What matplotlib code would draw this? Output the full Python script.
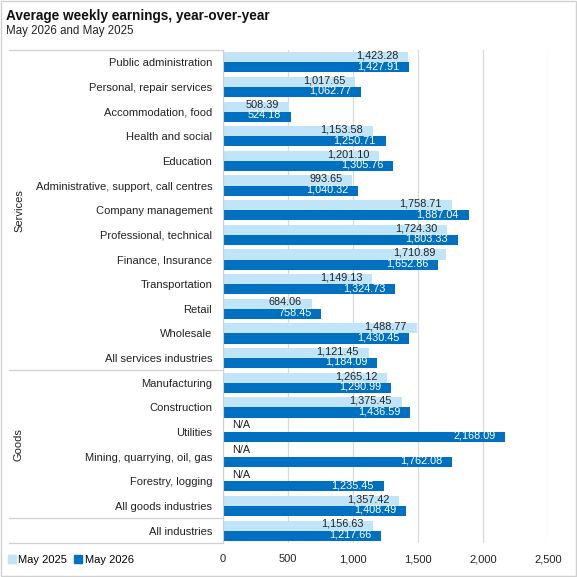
import numpy as np
import matplotlib
matplotlib.use("Agg")
import matplotlib.pyplot as plt
from matplotlib.patches import Patch

plt.rcParams['font.family'] = ['Liberation Sans', 'DejaVu Sans']

# data, top to bottom as in the chart
industries = [
    "Public administration", "Personal, repair services", "Accommodation, food",
    "Health and social", "Education", "Administrative, support, call centres",
    "Company management", "Professional, technical", "Finance, Insurance",
    "Transportation", "Retail", "Wholesale", "All services industries",
    "Manufacturing", "Construction", "Utilities", "Mining, quarrying, oil, gas",
    "Forestry, logging", "All goods industries", "All industries",
]
may_2025 = [1423.28, 1017.65, 508.39, 1153.58, 1201.10, 993.65, 1758.71, 1724.30,
            1710.89, 1149.13, 684.06, 1488.77, 1121.45, 1265.12, 1375.45,
            np.nan, np.nan, np.nan, 1357.42, 1156.63]
may_2026 = [1427.91, 1062.77, 524.18, 1250.71, 1305.76, 1040.32, 1887.04, 1803.33,
            1652.86, 1324.73, 758.45, 1430.45, 1184.09, 1290.99, 1436.59,
            2168.09, 1762.08, 1235.45, 1408.49, 1217.66]
groups = [("Services", 0, 12), ("Goods", 13, 18)]
xticks = [0, 500, 1000, 1500, 2000, 2500]

LIGHT = "#C0E4F8"
DARK = "#0070C0"

fig = plt.figure(figsize=(5.77, 5.77), dpi=100)
ax = fig.add_axes([0.3858, 0.0589, 0.5646, 0.8544])

y = np.arange(len(industries))
h = 0.41
v25 = np.nan_to_num(np.array(may_2025))
v26 = np.array(may_2026)
ax.barh(y - h / 2, v25, height=h, color=LIGHT, zorder=2)
ax.barh(y + h / 2, v26, height=h, color=DARK, zorder=2)

for yi, a, b in zip(y, may_2025, may_2026):
    if np.isnan(a):
        ax.annotate("N/A", (0, yi - h / 2 - 0.07), xytext=(7, 0), textcoords="offset points",
                    ha="left", va="center", fontsize=7.8, color="#222222", zorder=3)
    else:
        ax.annotate(f"{a:,.2f}", (a, yi - h / 2 - 0.07), xytext=(-7, 0), textcoords="offset points",
                    ha="right", va="center", fontsize=7.8, color="#222222", zorder=3)
    ax.annotate(f"{b:,.2f}", (b, yi + h / 2 - 0.05), xytext=(-7, 0), textcoords="offset points",
                ha="right", va="center", fontsize=7.8, color="white", zorder=3)

ax.set_xlim(0, 2500)
ax.set_ylim(len(industries) - 0.5, -0.5)
ax.set_xticks(xticks)
ax.set_xticklabels([f"{t:,}" for t in xticks], fontsize=8, color="#222222")
ax.set_yticks(y)
ax.set_yticklabels(industries, fontsize=8, color="#222222")
ax.tick_params(axis="both", length=0)
ax.tick_params(axis="y", pad=7.5)
ax.tick_params(axis="x", pad=8)
ax.grid(axis="x", color="#D9D9D9", linewidth=0.9, zorder=0)
for side in ["top", "right", "bottom"]:
    ax.spines[side].set_visible(False)
ax.spines["left"].set_color("#D0D0D0")

# lines framing the category table on the left
tr = ax.get_yaxis_transform()
for yl in [-0.5, 12.5, 18.5, 19.5]:
    ax.plot([-0.656, 0], [yl, yl], transform=tr, color="#D0D0D0", lw=0.9, clip_on=False)
for name, a, b in groups:
    ax.text(-0.625, (a + b) / 2, name, transform=tr, rotation=90, ha="center", va="center",
            fontsize=8, color="#222222")

fig.text(0.011, 0.972, "Average weekly earnings, year-over-year", fontsize=9.8,
         fontweight="bold", va="center", color="#111111")
fig.text(0.011, 0.946, "May 2026 and May 2025", fontsize=8.3, va="center", color="#222222")

handles = [Patch(color=LIGHT, label="May 2025"), Patch(color=DARK, label="May 2026")]
fig.legend(handles=handles, loc="center left", bbox_to_anchor=(0.006, 0.029), ncol=2,
           frameon=False, fontsize=8, handlelength=0.7, handleheight=0.7,
           handletextpad=0.25, columnspacing=0.6, borderaxespad=0)

# outer frame
fig.patches.append(plt.Rectangle((0.002, 0.002), 0.996, 0.996, transform=fig.transFigure,
                                 fill=False, edgecolor="#D0D0D0", lw=1))

fig.savefig("out.png", dpi=100)
